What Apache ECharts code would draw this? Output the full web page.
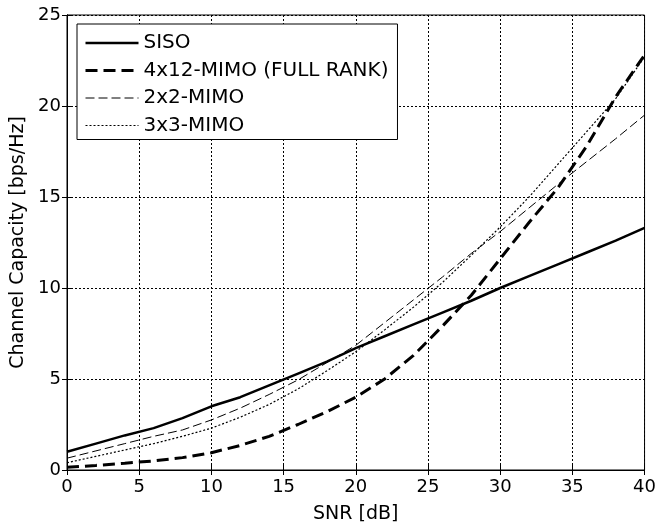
<!DOCTYPE html>
<html>
<head>
<meta charset="utf-8">
<script src="https://cdn.jsdelivr.net/npm/echarts@6/dist/echarts.min.js"></script>
<style>
html, body { margin: 0; padding: 0; background: #fff; }
#main { width: 659px; height: 529px; }
</style>
</head>
<body>
<div id="main"></div>
<script>
// SNR points [dB]
var snr = [0, 2, 4, 6, 8, 10, 12, 14, 16, 18, 20, 22, 24, 26, 28, 30, 32, 34, 36, 38, 40];

// capacities [bps/Hz]
var siso   = [1.0, 1.45, 1.9, 2.3, 2.85, 3.5, 4.0, 4.65, 5.3, 5.95, 6.7, 7.35, 8.0, 8.65, 9.3, 10.0, 10.65, 11.3, 11.95, 12.6, 13.3];
var mimo4x12 = [0.15, 0.25, 0.37, 0.5, 0.68, 0.95, 1.35, 1.85, 2.5, 3.2, 4.0, 5.0, 6.3, 7.9, 9.6, 11.6, 13.6, 15.5, 17.8, 20.5, 22.8];
var mimo2x2  = [0.65, 1.05, 1.45, 1.85, 2.2, 2.75, 3.4, 4.15, 4.95, 5.9, 6.85, 8.1, 9.35, 10.6, 11.9, 13.1, 14.4, 15.7, 16.95, 18.2, 19.5];
var mimo3x3  = [0.4, 0.75, 1.1, 1.45, 1.85, 2.3, 2.9, 3.6, 4.45, 5.45, 6.5, 7.7, 8.95, 10.3, 11.8, 13.35, 15.0, 16.8, 18.6, 20.4, 22.7];

var names = ['SISO', '4x12-MIMO (FULL RANK)', '2x2-MIMO', '3x3-MIMO'];

var styles = [
    { color: '#000', width: 2.5, type: 'solid' },
    { color: '#000', width: 3, type: [12, 6] },
    { color: '#000', width: 1, type: [9, 4] },
    { color: '#000', width: 1.2, type: [2, 2] }
];

function pairs(ys) {
    var out = [];
    for (var i = 0; i < snr.length; i++) {
        out.push([snr[i], ys[i]]);
    }
    return out;
}

var font = 'DejaVu Sans, sans-serif';

var gridLine = {
    show: true,
    lineStyle: { color: '#000', width: 1, type: [2, 2] }
};

var legendData = [];
for (var k = 0; k < names.length; k++) {
    legendData.push({
        name: names[k],
        itemStyle: { opacity: 0 },
        lineStyle: styles[k]
    });
}

var chart = echarts.init(document.getElementById('main'));
var option = {
    backgroundColor: '#fff',
    animation: false,
    grid: {
        left: 67, right: 12, top: 15, bottom: 59,
        show: true,
        borderColor: '#000',
        borderWidth: 1
    },
    legend: {
        orient: 'vertical',
        left: 77,
        top: 24,
        padding: [9, 9, 4, 7],
        itemGap: 7.5,
        itemWidth: 53,
        itemHeight: 20,
        borderColor: '#000',
        borderWidth: 1,
        borderRadius: 0,
        backgroundColor: '#fff',
        textStyle: { fontFamily: font, fontSize: 20, color: '#000' },
        data: legendData
    },
    xAxis: [{
        type: 'value',
        min: 0, max: 40, interval: 5,
        name: 'SNR [dB]',
        nameLocation: 'middle',
        nameGap: 35,
        nameTextStyle: { fontFamily: font, fontSize: 19, color: '#000' },
        axisLine: { show: true, lineStyle: { color: '#000' } },
        axisTick: { show: true, inside: true, length: 5, lineStyle: { color: '#000' } },
        axisLabel: { fontFamily: font, fontSize: 18, color: '#000', margin: 8 },
        splitLine: gridLine
    }, {
        type: 'value',
        position: 'top',
        min: 0, max: 40, interval: 5,
        axisLine: { show: true, lineStyle: { color: '#000' } },
        axisTick: { show: true, inside: true, length: 5, lineStyle: { color: '#000' } },
        axisLabel: { show: false },
        splitLine: { show: false }
    }],
    yAxis: [{
        type: 'value',
        min: 0, max: 25, interval: 5,
        name: 'Channel Capacity [bps/Hz]',
        nameLocation: 'middle',
        nameGap: 38,
        nameTextStyle: { fontFamily: font, fontSize: 19, color: '#000' },
        axisLine: { show: true, lineStyle: { color: '#000' } },
        axisTick: { show: true, inside: true, length: 5, lineStyle: { color: '#000' } },
        axisLabel: { fontFamily: font, fontSize: 18, color: '#000', margin: 6 },
        splitLine: gridLine
    }, {
        type: 'value',
        position: 'right',
        min: 0, max: 25, interval: 5,
        axisLine: { show: true, lineStyle: { color: '#000' } },
        axisTick: { show: true, inside: true, length: 5, lineStyle: { color: '#000' } },
        axisLabel: { show: false },
        splitLine: { show: false }
    }],
    series: [{
        name: names[0],
        type: 'line',
        symbol: 'none',
        data: pairs(siso),
        lineStyle: styles[0],
        itemStyle: { color: '#000' }
    }, {
        name: names[1],
        type: 'line',
        symbol: 'none',
        data: pairs(mimo4x12),
        lineStyle: styles[1],
        itemStyle: { color: '#000' }
    }, {
        name: names[2],
        type: 'line',
        symbol: 'none',
        data: pairs(mimo2x2),
        lineStyle: styles[2],
        itemStyle: { color: '#000' }
    }, {
        name: names[3],
        type: 'line',
        symbol: 'none',
        data: pairs(mimo3x3),
        lineStyle: styles[3],
        itemStyle: { color: '#000' }
    }]
};
chart.setOption(option);
</script>
</body>
</html>
